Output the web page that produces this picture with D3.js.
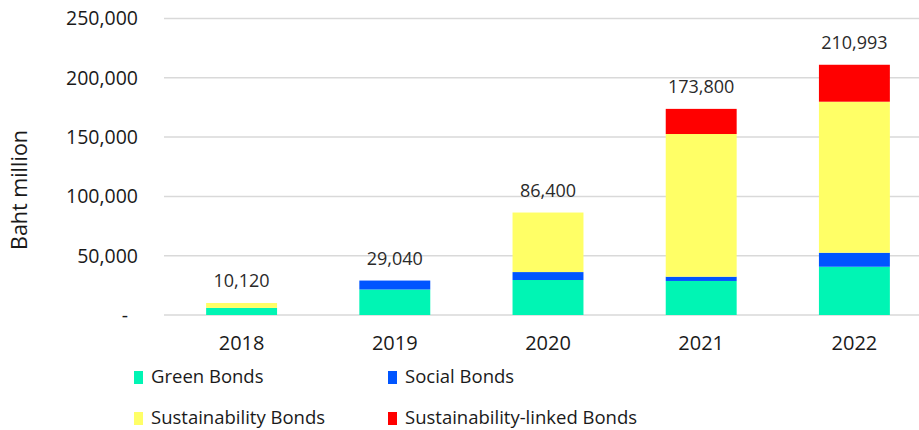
<!DOCTYPE html>
<html>
<head>
<meta charset="utf-8">
<script src="https://cdn.jsdelivr.net/npm/d3@7"></script>
<style>
  body { margin: 0; background: #fff; }
  svg text { font-family: "Open Sans", sans-serif; fill: #1a1a1a; }
</style>
</head>
<body>
<svg id="chart" width="919" height="430"></svg>
<script>
// values in Baht million
var years = ['2018', '2019', '2020', '2021', '2022'];
var green = [6000, 21500, 29500, 28700, 40700];
var social = [0, 7540, 6700, 3600, 11800];
var sustainability = [4120, 0, 50200, 120300, 127350];
var slb = [0, 0, 0, 21200, 31143];
var totals = [10120, 29040, 86400, 173800, 210993];
var yTicks = [0, 50000, 100000, 150000, 200000, 250000];

var seriesNames = ['Green Bonds', 'Social Bonds', 'Sustainability Bonds', 'Sustainability-linked Bonds'];
var colors = ['#00f5b4', '#0055ff', '#ffff66', '#ff0000'];

var svg = d3.select('#chart');

var x = d3.scaleBand()
  .domain(years)
  .range([165, 931])
  .paddingInner(0.537)
  .paddingOuter(0.2685);

var y = d3.scaleLinear()
  .domain([0, 250000])
  .range([315, 18.5]);

// build rows for d3.stack
var rows = years.map(function(yr, i) {
  return { year: yr, g: green[i], s: social[i], su: sustainability[i], l: slb[i] };
});
var stack = d3.stack().keys(['g', 's', 'su', 'l']);
var layers = stack(rows);

// gridlines
svg.append('g')
  .selectAll('line')
  .data(yTicks)
  .enter()
  .append('line')
  .attr('x1', 164)
  .attr('x2', 919)
  .attr('y1', function(d) { return y(d); })
  .attr('y2', function(d) { return y(d); })
  .attr('stroke', '#d9d9d9')
  .attr('stroke-width', 1.5);

// y tick labels
svg.append('g')
  .selectAll('text')
  .data(yTicks)
  .enter()
  .append('text')
  .attr('x', function(d) { return d === 0 ? 128 : 138; })
  .attr('y', function(d) { return y(d); })
  .attr('dy', '0.35em')
  .attr('text-anchor', 'end')
  .style('font-size', '19.5px')
  .text(function(d) { return d === 0 ? '-' : d3.format(',')(d); });

// y title
svg.append('text')
  .attr('transform', 'translate(19,190) rotate(-90)')
  .attr('text-anchor', 'middle')
  .attr('dy', '0.35em')
  .style('font-size', '21.5px')
  .text('Baht million');

// bars
svg.append('g')
  .selectAll('g')
  .data(layers)
  .enter()
  .append('g')
  .attr('fill', function(d, i) { return colors[i]; })
  .selectAll('rect')
  .data(function(d) { return d; })
  .enter()
  .append('rect')
  .attr('x', function(d) { return x(d.data.year); })
  .attr('width', x.bandwidth())
  .attr('y', function(d) { return y(d[1]); })
  .attr('height', function(d) { return y(d[0]) - y(d[1]); });

// total labels
svg.append('g')
  .selectAll('text')
  .data(totals)
  .enter()
  .append('text')
  .attr('x', function(d, i) { return x(years[i]) + x.bandwidth() / 2; })
  .attr('y', function(d) { return y(d) - 22; })
  .attr('dy', '0.35em')
  .attr('text-anchor', 'middle')
  .style('font-size', '18px')
  .style('fill', '#2a2a2a')
  .text(function(d) { return d3.format(',')(d); });

// x labels
svg.append('g')
  .selectAll('text')
  .data(years)
  .enter()
  .append('text')
  .attr('x', function(d) { return x(d) + x.bandwidth() / 2; })
  .attr('y', 343)
  .attr('dy', '0.35em')
  .attr('text-anchor', 'middle')
  .style('font-size', '20px')
  .text(function(d) { return d; });

// legend, two columns
var legend = svg.append('g')
  .selectAll('g')
  .data(seriesNames)
  .enter()
  .append('g')
  .attr('transform', function(d, i) {
    return 'translate(' + (i % 2 === 0 ? 134 : 388) + ',' + (i < 2 ? 377 : 418) + ')';
  });

legend.append('rect')
  .attr('x', 0)
  .attr('y', -6)
  .attr('width', 9)
  .attr('height', 13)
  .attr('fill', function(d, i) { return colors[i]; });

legend.append('text')
  .attr('x', 17)
  .attr('y', 0)
  .attr('dy', '0.35em')
  .style('font-size', '18.5px')
  .text(function(d) { return d; });
</script>
</body>
</html>
